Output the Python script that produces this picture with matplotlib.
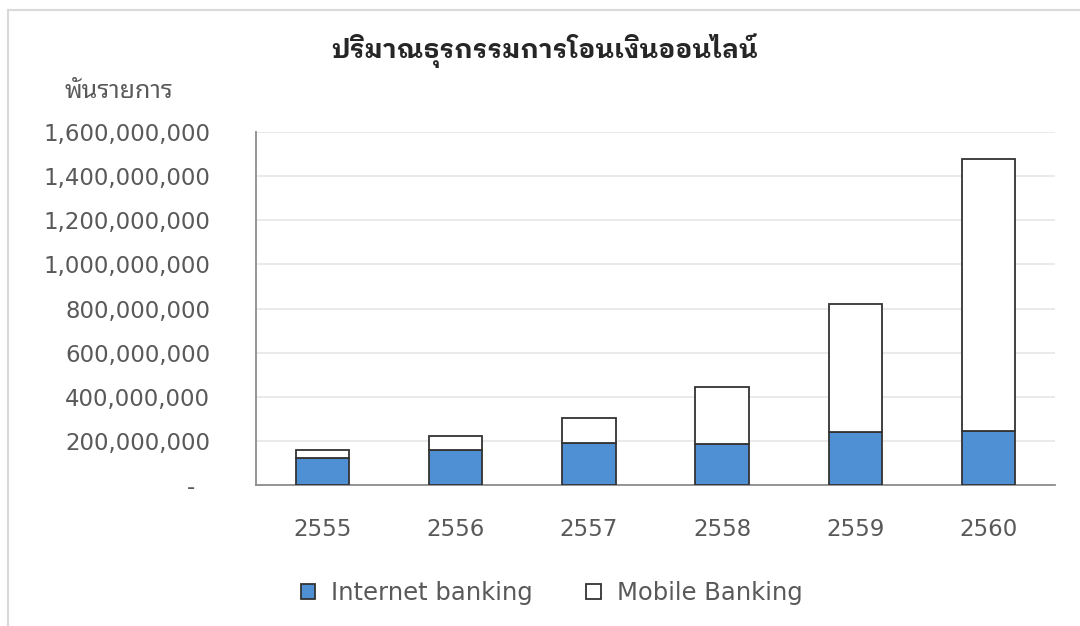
import numpy as np
import matplotlib
matplotlib.use("Agg")
import matplotlib.pyplot as plt
from matplotlib.lines import Line2D
from matplotlib.ticker import FuncFormatter

plt.rcParams['font.family'] = ['DejaVu Sans', 'Noto Sans Thai Looped']

# ปริมาณธุรกรรม (พันรายการ)
years = ['2555', '2556', '2557', '2558', '2559', '2560']
internet_banking = [122e6, 159e6, 190e6, 184e6, 239e6, 246e6]
mobile_banking = [37e6, 63e6, 114e6, 260e6, 582e6, 1232e6]

text_col = '#595959'

fig = plt.figure(figsize=(10.8, 6.26), dpi=100)
ax = fig.add_axes([0.237, 0.2252, 0.7399, 0.5638])

x = np.arange(len(years))
ax.bar(x, internet_banking, width=0.4, color='#4f8fd3', edgecolor='#333333',
       linewidth=1.3, label='Internet banking', zorder=3)
ax.bar(x, mobile_banking, width=0.4, bottom=internet_banking, color='white',
       edgecolor='#333333', linewidth=1.3, label='Mobile Banking', zorder=3)

ax.set_xlim(-0.5, len(years) - 0.5)
ax.set_ylim(0, 1.6e9)
ax.set_yticks(np.arange(0, 1.6e9 + 1, 2e8))
ax.yaxis.set_major_formatter(FuncFormatter(lambda v, p: '-  ' if v == 0 else f'{v:,.0f}'))
ax.set_xticks(x)
ax.set_xticklabels(years)
ax.tick_params(axis='y', length=0, pad=33, labelsize=16.5, labelcolor=text_col)
ax.tick_params(axis='x', length=0, pad=24, labelsize=16.5, labelcolor=text_col)
ax.grid(axis='y', color='#e6e6e6', linewidth=1.2, zorder=0)
for s in ['top', 'right']:
    ax.spines[s].set_visible(False)
for s in ['left', 'bottom']:
    ax.spines[s].set_color('#8c8c8c')
    ax.spines[s].set_linewidth(1.3)

fig.text(0.5046, 0.919, 'ปริมาณธุรกรรมการโอนเงินออนไลน์', ha='center', va='center',
         fontsize=19, fontweight='bold', color='#262626',
         family=['IBM Plex Sans Thai Looped', 'Noto Sans Thai Looped'])
fig.text(0.110, 0.854, 'พันรายการ', ha='center', va='center', fontsize=18,
         color=text_col, family=['Noto Sans Thai Looped'])

fig.legend(loc='center', bbox_to_anchor=(0.5106, 0.053), ncol=2, frameon=False,
           fontsize=17.5, labelcolor=text_col, handlelength=0.6, handleheight=0.6,
           columnspacing=2.2, handletextpad=0.65)

# light frame along the top and left edges
fig.add_artist(Line2D([0.0075, 1], [0.984, 0.984], color='#d9d9d9', lw=1.5))
fig.add_artist(Line2D([0.0075, 0.0075], [0, 0.984], color='#d9d9d9', lw=1.5))

fig.savefig('out.png')
